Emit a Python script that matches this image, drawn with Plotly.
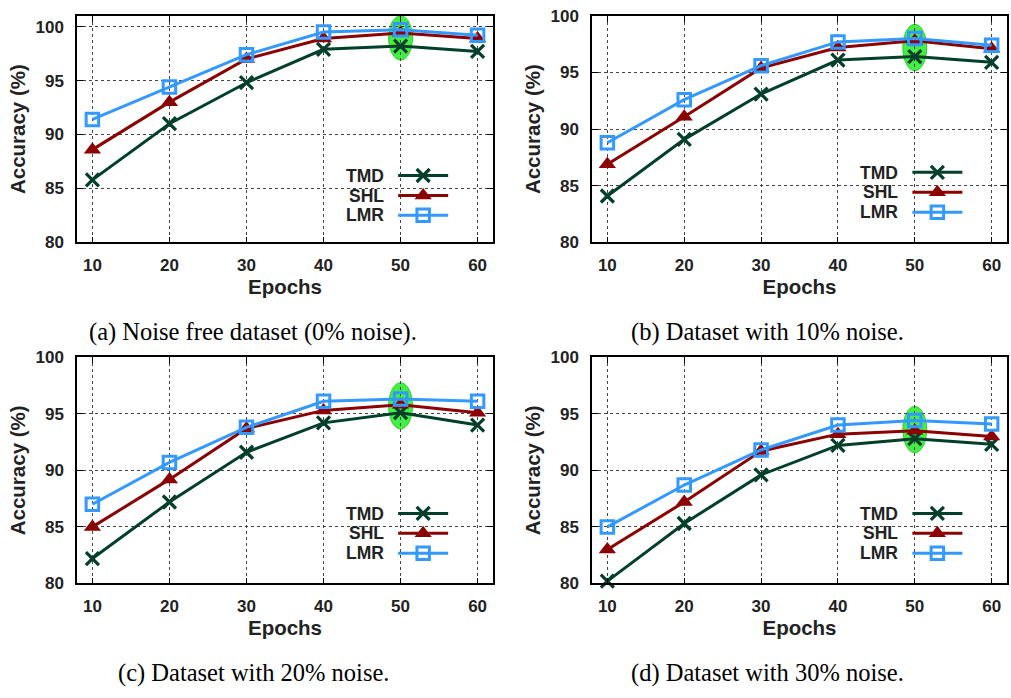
import plotly.graph_objects as go

# ---------------- data ----------------
epochs = [10, 20, 30, 40, 50, 60]
x_ticks = [10, 20, 30, 40, 50, 60]
y_ticks = [80, 85, 90, 95, 100]
series_names = ["TMD", "SHL", "LMR"]
captions = [
    "(a) Noise free dataset (0% noise).",
    "(b) Dataset with 10% noise.",
    "(c) Dataset with 20% noise.",
    "(d) Dataset with 30% noise.",
]

tmd_a = [85.8, 91.0, 94.8, 97.9, 98.2, 97.7]
shl_a = [88.6, 93.0, 97.0, 98.9, 99.4, 98.9]
lmr_a = [91.4, 94.4, 97.4, 99.5, 99.7, 99.2]

tmd_b = [84.1, 89.1, 93.1, 96.1, 96.4, 95.9]
shl_b = [86.9, 91.1, 95.4, 97.2, 97.8, 97.1]
lmr_b = [88.8, 92.6, 95.6, 97.7, 98.0, 97.4]

tmd_c = [82.2, 87.2, 91.6, 94.2, 95.1, 94.0]
shl_c = [85.0, 89.2, 93.7, 95.3, 95.8, 95.1]
lmr_c = [87.0, 90.7, 93.8, 96.1, 96.3, 96.1]

tmd_d = [80.2, 85.3, 89.6, 92.2, 92.8, 92.3]
shl_d = [83.0, 87.2, 91.7, 93.2, 93.5, 93.0]
lmr_d = [85.0, 88.7, 91.8, 94.0, 94.4, 94.1]

y_max = [101, 100, 100, 100]
panels = [
    (tmd_a, shl_a, lmr_a),
    (tmd_b, shl_b, lmr_b),
    (tmd_c, shl_c, lmr_c),
    (tmd_d, shl_d, lmr_d),
]

# ---------------- styles ----------------
W, H = 1011, 698
colors = ["#003f2a", "#8b0000", "#3399ff"]
sans = "Liberation Sans"
serif = "Liberation Serif"
txt = "#222222"

x_domains = [[77 / W, 493 / W], [592 / W, 1007 / W]]
y_domains = [[1 - 240 / H, 1 - 7 / H], [1 - 590.5 / H, 1 - 358 / H]]

fig = go.Figure()

for p, data in enumerate(panels):
    ax = "" if p == 0 else str(p + 1)
    leg = "legend" if p == 0 else "legend%d" % (p + 1)
    styles = [
        dict(symbol="x-thin", size=13, line=dict(width=3.2, color=colors[0]), color=colors[0]),
        dict(symbol="triangle-up", size=15, color=colors[1], line=dict(width=0)),
        dict(symbol="square-open", size=12.5, color=colors[2], line=dict(width=3, color=colors[2])),
    ]
    for s, vals in enumerate(data):
        fig.add_trace(go.Scatter(
            x=epochs, y=vals, mode="lines+markers", name="",
            line=dict(color=colors[s], width=3),
            marker=styles[s], cliponaxis=False,
            xaxis="x" + ax, yaxis="y" + ax, legend=leg,
            hovertemplate=series_names[s] + ": %{y}<extra></extra>",
        ))

    # highlight ellipse at best epoch (max of LMR)
    lmr = data[2]
    bi = lmr.index(max(lmr))
    col_vals = [d[bi] for d in data]
    yc = (max(col_vals) + min(col_vals)) / 2
    fig.add_shape(type="circle", xref="x" + ax, yref="y" + ax,
                  x0=epochs[bi] - 1.55, x1=epochs[bi] + 1.55, y0=yc - 2.05, y1=yc + 2.05,
                  fillcolor="#44ee44", line=dict(color="#2fd02f", width=1), layer="below")

    xd = x_domains[p % 2]
    yd = y_domains[p // 2]
    axis_common = dict(
        showline=True, linecolor="black", linewidth=1.5, mirror="ticks",
        ticks="inside", ticklen=6, tickcolor="black", tickwidth=1,
        showgrid=True, gridcolor="#444444", griddash="dot", gridwidth=1,
        zeroline=False,
        tickfont=dict(family=sans, size=17, color=txt, weight="bold"),
    )
    fig.update_layout(**{
        "xaxis" + ax: dict(axis_common, domain=xd, range=[8, 62], tickvals=x_ticks,
                           anchor="y" + ax, ticklabelstandoff=6,
                           title=dict(text="Epochs", standoff=3,
                                      font=dict(family=sans, size=20.5, color=txt, weight="bold"))),
        "yaxis" + ax: dict(axis_common, domain=yd, range=[80, y_max[p]], tickvals=y_ticks,
                           anchor="x" + ax, ticklabelstandoff=8,
                           title=dict(text="Accuracy (%)", standoff=4,
                                      font=dict(family=sans, size=20.5, color=txt, weight="bold"))),
    })

    # legend (symbols) + labels on the left, gnuplot style
    row_fr = [0.293, 0.207, 0.121] if p == 0 else [0.307, 0.221, 0.135]
    lx_fr = 0.772
    lw = xd[1] - xd[0]
    hgt = yd[1] - yd[0]
    fig.update_layout(**{leg: dict(
        x=xd[0] + lx_fr * lw - 5 / W, y=yd[0] + row_fr[1] * hgt,
        xanchor="left", yanchor="middle",
        font=dict(size=13), itemwidth=50, bgcolor="rgba(0,0,0,0)",
        borderwidth=0, tracegroupgap=0, traceorder="normal",
    )})
    for s in range(3):
        fig.add_annotation(xref="x%s domain" % ax, yref="y%s domain" % ax,
                           x=0.742, y=row_fr[s], xanchor="right", yanchor="middle",
                           text=series_names[s], showarrow=False,
                           font=dict(family=sans, size=17.5, color=txt, weight="bold"))

    # caption
    cx = [253 / W, 767 / W][p % 2]
    cy = [1 - 332 / H, 1 - 683 / H][p // 2]
    fig.add_annotation(xref="paper", yref="paper", x=cx, y=cy, xanchor="center", yanchor="middle",
                       text=captions[p], showarrow=False,
                       font=dict(family=serif, size=24.5, color="black"))

fig.update_layout(
    width=W, height=H, margin=dict(l=0, r=0, t=0, b=0),
    paper_bgcolor="white", plot_bgcolor="white", showlegend=True,
)

fig.write_html("out.html")
